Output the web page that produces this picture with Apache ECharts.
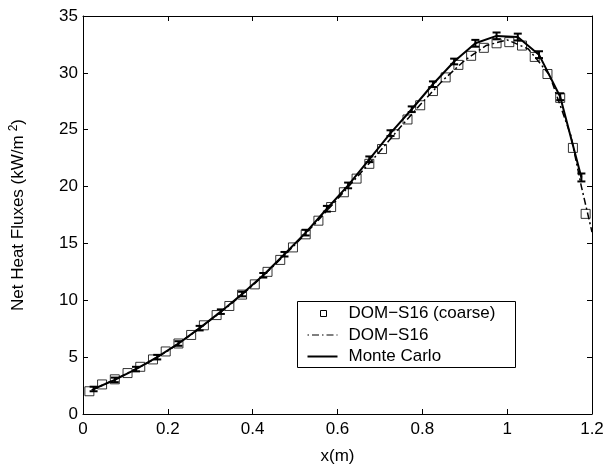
<!DOCTYPE html>
<html>
<head>
<meta charset="utf-8">
<script src="https://cdn.jsdelivr.net/npm/echarts@6/dist/echarts.min.js"></script>
<style>
html,body{margin:0;padding:0;background:#fff;}
#c{width:616px;height:470px;}
</style>
</head>
<body>
<div id="c"></div>
<script>
// DOM-S16 (coarse) squares
var coarseX = [0.015,0.045,0.075,0.105,0.135,0.165,0.195,0.225,0.255,0.285,0.315,0.345,0.375,0.405,0.435,0.465,0.495,0.525,0.555,0.585,0.615,0.645,0.675,0.705,0.735,0.765,0.795,0.825,0.855,0.885,0.915,0.945,0.975,1.005,1.035,1.065,1.095,1.125,1.155,1.185];
var coarseY = [2.0,2.6,3.05,3.6,4.15,4.8,5.5,6.2,6.95,7.8,8.7,9.5,10.5,11.4,12.5,13.55,14.65,15.8,17.0,18.2,19.5,20.7,22.0,23.3,24.6,25.9,27.15,28.4,29.6,30.7,31.5,32.2,32.6,32.7,32.4,31.4,29.9,27.8,23.4,17.6];
// DOM-S16 dash-dot line
var domX = [0.02,0.05,0.1,0.15,0.2,0.25,0.3,0.35,0.4,0.45,0.5,0.55,0.6,0.65,0.7,0.75,0.8,0.85,0.9,0.95,1.0,1.05,1.1,1.15,1.175,1.2];
var domY = [2.1,2.6,3.5,4.45,5.55,6.85,8.25,9.7,11.3,13.05,14.9,16.85,18.9,21.0,23.1,25.3,27.4,29.4,31.1,32.4,32.9,32.1,29.8,24.5,20.0,16.0];
// Monte Carlo with error bars
var mcX = [0.025,0.075,0.125,0.175,0.225,0.275,0.325,0.375,0.425,0.475,0.525,0.575,0.625,0.675,0.725,0.775,0.825,0.875,0.925,0.975,1.025,1.075,1.125,1.175];
var mcY = [2.2,3.0,3.95,5.0,6.2,7.55,9.0,10.55,12.2,14.05,15.95,18.05,20.1,22.4,24.7,26.8,29.0,31.0,32.6,33.25,33.15,31.6,27.9,20.8];
var mcErr = [0.2,0.2,0.2,0.2,0.2,0.2,0.2,0.2,0.2,0.2,0.25,0.25,0.25,0.25,0.25,0.25,0.25,0.25,0.3,0.3,0.3,0.3,0.3,0.35];
var xTicks = [0,0.2,0.4,0.6,0.8,1,1.2];
var yTicks = [0,5,10,15,20,25,30,35];

function zip(a,b){return a.map(function(v,i){return [v,b[i]];});}
var errData = mcX.map(function(x,i){return [x, mcY[i]-mcErr[i], mcY[i]+mcErr[i]];});

var FONT = 'Liberation Sans, Arial, Helvetica, sans-serif';
var chart = echarts.init(document.getElementById('c'), null, {renderer:'canvas'});
var axisCommon = {
  axisLine:{show:true,onZero:false,lineStyle:{color:'#000',width:1}},
  axisTick:{show:true,inside:true,length:5,lineStyle:{color:'#000',width:1}},
  splitLine:{show:false}
};
chart.setOption({
  animation:false,
  backgroundColor:'#fff',
  grid:{left:83,right:24,top:16,bottom:53,containLabel:false},
  xAxis:[
    Object.assign({type:'value',min:0,max:1.2,interval:0.2,position:'bottom',
      name:'x(m)',nameLocation:'middle',nameGap:34,
      nameTextStyle:{fontFamily:FONT,fontSize:17,color:'#000'},
      axisLabel:{fontFamily:FONT,fontSize:17,color:'#000',margin:7,
        formatter:function(v){var t=xTicks.filter(function(k){return Math.abs(k-v)<1e-6;}); return t.length?String(t[0]):'';}}
    },axisCommon),
    Object.assign({type:'value',min:0,max:1.2,interval:0.2,position:'top',axisLabel:{show:false}},axisCommon)
  ],
  yAxis:[
    Object.assign({type:'value',min:0,max:35,interval:5,position:'left',
      name:'Net Heat Fluxes (kW/m{sup|2})',nameLocation:'middle',nameGap:55,
      nameTextStyle:{fontFamily:FONT,fontSize:17,color:'#000',
        rich:{sup:{fontFamily:FONT,fontSize:12,color:'#000',verticalAlign:'top',padding:[0,0,8,4]}}},
      axisLabel:{fontFamily:FONT,fontSize:17,color:'#000',margin:5,
        formatter:function(v){return yTicks.indexOf(v)>=0?String(v):'';}}
    },axisCommon),
    Object.assign({type:'value',min:0,max:35,interval:5,position:'right',axisLabel:{show:false}},axisCommon)
  ],
  series:[
    {name:'DOM−S16 (coarse)',type:'scatter',data:zip(coarseX,coarseY),symbol:'rect',symbolSize:9,
      itemStyle:{color:'rgba(0,0,0,0)',borderColor:'#000',borderWidth:1},z:3},
    {name:'DOM−S16',type:'line',data:zip(domX,domY),showSymbol:false,symbol:'none',
      lineStyle:{color:'#000',width:1.5,type:[7,3,2,3]},z:4},
    {name:'Monte Carlo',type:'line',data:zip(mcX,mcY),showSymbol:false,symbol:'none',
      lineStyle:{color:'#000',width:2},z:5},
    {name:'MC error',type:'custom',data:errData,z:6,
      renderItem:function(params,api){
        var x=api.value(0), lo=api.coord([x,api.value(1)]), hi=api.coord([x,api.value(2)]);
        var hw=4;
        return {type:'group',children:[
          {type:'line',shape:{x1:lo[0],y1:lo[1],x2:hi[0],y2:hi[1]},style:{stroke:'#000',lineWidth:2}},
          {type:'line',shape:{x1:lo[0]-hw,y1:lo[1],x2:lo[0]+hw,y2:lo[1]},style:{stroke:'#000',lineWidth:2}},
          {type:'line',shape:{x1:hi[0]-hw,y1:hi[1],x2:hi[0]+hw,y2:hi[1]},style:{stroke:'#000',lineWidth:2}}
        ]};
      }}
  ],
  graphic:[
    {type:'group',left:297,top:301,z:100,children:[
      {type:'rect',shape:{x:0,y:0,width:218,height:66},style:{fill:'#fff',stroke:'#000',lineWidth:1}},
      {type:'rect',shape:{x:23,y:9,width:6,height:6},style:{fill:'#fff',stroke:'#000',lineWidth:1}},
      {type:'text',x:51,y:12,style:{text:'DOM−S16 (coarse)',fontFamily:FONT,fontSize:17,fill:'#000',verticalAlign:'middle'}},
      {type:'line',shape:{x1:10,y1:33.5,x2:40,y2:33.5},style:{stroke:'#000',lineWidth:1.2,lineDash:[1.5,3,7,3]}},
      {type:'text',x:51,y:34,style:{text:'DOM−S16',fontFamily:FONT,fontSize:17,fill:'#000',verticalAlign:'middle'}},
      {type:'line',shape:{x1:10,y1:55,x2:40,y2:55},style:{stroke:'#000',lineWidth:2}},
      {type:'text',x:51,y:55,style:{text:'Monte Carlo',fontFamily:FONT,fontSize:17,fill:'#000',verticalAlign:'middle'}}
    ]}
  ]
});
</script>
</body>
</html>
